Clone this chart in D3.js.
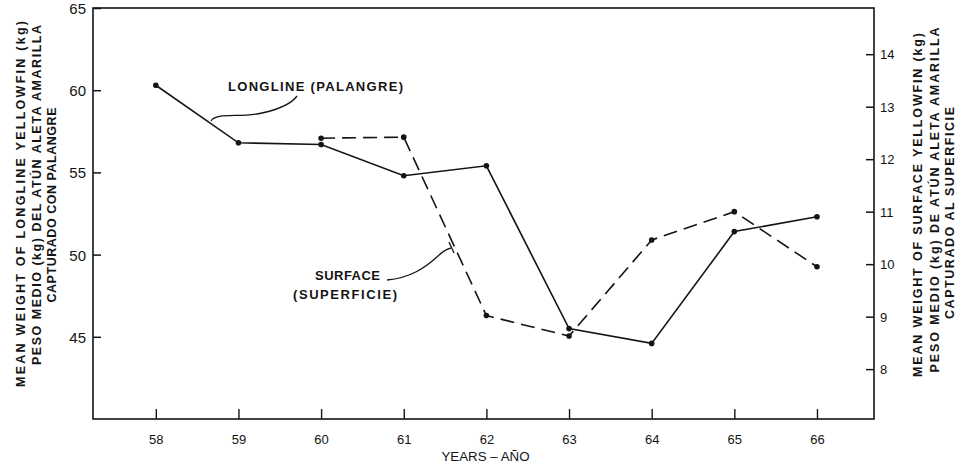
<!DOCTYPE html>
<html>
<head>
<meta charset="utf-8">
<script src="https://cdn.jsdelivr.net/npm/d3@7"></script>
<style>
  html, body { margin: 0; padding: 0; background: #fff; }
  svg { display: block; }
  text { font-family: "Liberation Sans", Arial, Helvetica, sans-serif; fill: #141414; }
</style>
</head>
<body>
<svg id="chart" width="959" height="467"></svg>
<script>
// Years on the horizontal axis
const years = [58, 59, 60, 61, 62, 63, 64, 65, 66];
// Mean weight of longline yellowfin (kg), left axis
const longlineYears = [58, 59, 60, 61, 62, 63, 64, 65, 66];
const longlineKg = [60.3, 56.8, 56.7, 54.8, 55.4, 45.5, 44.6, 51.4, 52.3];
// Mean weight of surface yellowfin (kg), right axis
const surfaceYears = [60, 61, 62, 63, 64, 65, 66];
const surfaceKg = [12.4, 12.42, 9.02, 8.63, 10.46, 11.0, 9.95];
// Tick values
const leftTicks = [45, 50, 55, 60, 65];
const rightTicks = [8, 9, 10, 11, 12, 13, 14];

const svg = d3.select("#chart");
const ink = "#141414";

const plotLeft = 93, plotRight = 874, plotTop = 8, plotBottom = 419;

const x = d3.scaleLinear().domain([57.24, 66.69]).range([plotLeft, plotRight]);
const yL = d3.scaleLinear().domain([40, 65]).range([plotBottom, plotTop]);
const yR = d3.scaleLinear().domain([7.05, 14.88]).range([plotBottom, plotTop]);

// Frame
svg.append("rect")
  .attr("x", plotLeft).attr("y", plotTop)
  .attr("width", plotRight - plotLeft).attr("height", plotBottom - plotTop)
  .attr("fill", "none").attr("stroke", ink).attr("stroke-width", 1.6);

// Left axis: ticks point inward
const gL = svg.append("g").attr("transform", `translate(${plotLeft},0)`)
  .call(d3.axisRight(yL).tickValues(leftTicks).tickSize(8).tickFormat(d3.format("d")));
gL.select(".domain").remove();
gL.selectAll("line").attr("stroke", ink).attr("stroke-width", 1.5);
gL.selectAll("text").attr("x", -7).attr("text-anchor", "end")
  .style("font-size", "15px").attr("dy", "0.36em");

// Right axis: ticks point inward
const gR = svg.append("g").attr("transform", `translate(${plotRight},0)`)
  .call(d3.axisLeft(yR).tickValues(rightTicks).tickSize(8).tickFormat(d3.format("d")));
gR.select(".domain").remove();
gR.selectAll("line").attr("stroke", ink).attr("stroke-width", 1.5);
gR.selectAll("text").attr("x", 6).attr("text-anchor", "start")
  .style("font-size", "13px").attr("dy", "0.36em");

// Bottom axis: ticks point up
const gB = svg.append("g").attr("transform", `translate(0,${plotBottom})`)
  .call(d3.axisTop(x).tickValues(years).tickSize(10).tickFormat(d3.format("d")));
gB.select(".domain").remove();
gB.selectAll("line").attr("stroke", ink).attr("stroke-width", 1.4);
gB.selectAll("text").attr("y", 20).attr("dy", "0.36em")
  .style("font-size", "13px");

svg.selectAll(".tick text").attr("fill", ink);

// Axis titles
svg.append("text")
  .attr("x", (plotLeft + plotRight) / 2 + 2).attr("y", 457)
  .attr("text-anchor", "middle").attr("dominant-baseline", "central")
  .attr("textLength", 88).attr("lengthAdjust", "spacingAndGlyphs")
  .style("font-size", "12px")
  .text("YEARS – AÑO");

function vTitle(cx, cy, len, str, size) {
  svg.append("text")
    .attr("transform", `translate(${cx},${cy}) rotate(-90)`)
    .attr("text-anchor", "middle").attr("dominant-baseline", "central")
    .attr("textLength", len).attr("lengthAdjust", "spacing")
    .style("font-size", size + "px").style("font-weight", "bold")
    .text(str);
}
vTitle(21, 204, 366, "MEAN WEIGHT OF LONGLINE YELLOWFIN (kg)", 12.5);
vTitle(37, 195, 340, "PESO MEDIO (kg) DEL ATÚN ALETA AMARILLA", 12.5);
vTitle(52, 205, 195, "CAPTURADO CON PALANGRE", 12.5);
vTitle(918, 205, 344, "MEAN WEIGHT OF SURFACE YELLOWFIN (kg)", 12.5);
vTitle(935, 200, 345, "PESO MEDIO (kg) DE ATÚN ALETA AMARILLA", 12.5);
vTitle(950, 213, 212, "CAPTURADO AL SUPERFICIE", 12.5);

// Series lines
const longline = longlineYears.map((yr, i) => [yr, longlineKg[i]]);
const surface = surfaceYears.map((yr, i) => [yr, surfaceKg[i]]);

const lineL = d3.line().x(d => x(d[0])).y(d => yL(d[1]));
const lineR = d3.line().x(d => x(d[0])).y(d => yR(d[1]));

svg.append("path").datum(surface)
  .attr("d", lineR).attr("fill", "none").attr("stroke", ink)
  .attr("stroke-width", 1.6).attr("stroke-dasharray", "14,7");
svg.append("path").datum(longline)
  .attr("d", lineL).attr("fill", "none").attr("stroke", ink)
  .attr("stroke-width", 1.6);

svg.append("g").selectAll("circle").data(surface).join("circle")
  .attr("cx", d => x(d[0])).attr("cy", d => yR(d[1])).attr("r", 2.8).attr("fill", ink);
svg.append("g").selectAll("circle").data(longline).join("circle")
  .attr("cx", d => x(d[0])).attr("cy", d => yL(d[1])).attr("r", 2.8).attr("fill", ink);

// Series labels with leader lines
svg.append("text")
  .attr("x", 228).attr("y", 86).attr("dominant-baseline", "central")
  .attr("textLength", 175).attr("lengthAdjust", "spacing")
  .style("font-size", "13px").style("font-weight", "bold")
  .text("LONGLINE (PALANGRE)");

svg.append("path")
  .attr("d", "M211,121 C216,112 240,118 262,113 C280,109 292,103 297,96")
  .attr("fill", "none").attr("stroke", ink).attr("stroke-width", 1.3);

svg.append("text")
  .attr("x", 315).attr("y", 275).attr("dominant-baseline", "central")
  .attr("textLength", 65).attr("lengthAdjust", "spacing")
  .style("font-size", "13px").style("font-weight", "bold")
  .text("SURFACE");
svg.append("text")
  .attr("x", 293).attr("y", 294).attr("dominant-baseline", "central")
  .attr("textLength", 104).attr("lengthAdjust", "spacing")
  .style("font-size", "13px").style("font-weight", "bold")
  .text("(SUPERFICIE)");

svg.append("path")
  .attr("d", "M387,280 C410,278 425,268 438,256 C443,251 447,249 451,248")
  .attr("fill", "none").attr("stroke", ink).attr("stroke-width", 1.3);
svg.append("path")
  .attr("d", "M449,242 L454,253")
  .attr("fill", "none").attr("stroke", ink).attr("stroke-width", 1.3);
</script>
</body>
</html>
